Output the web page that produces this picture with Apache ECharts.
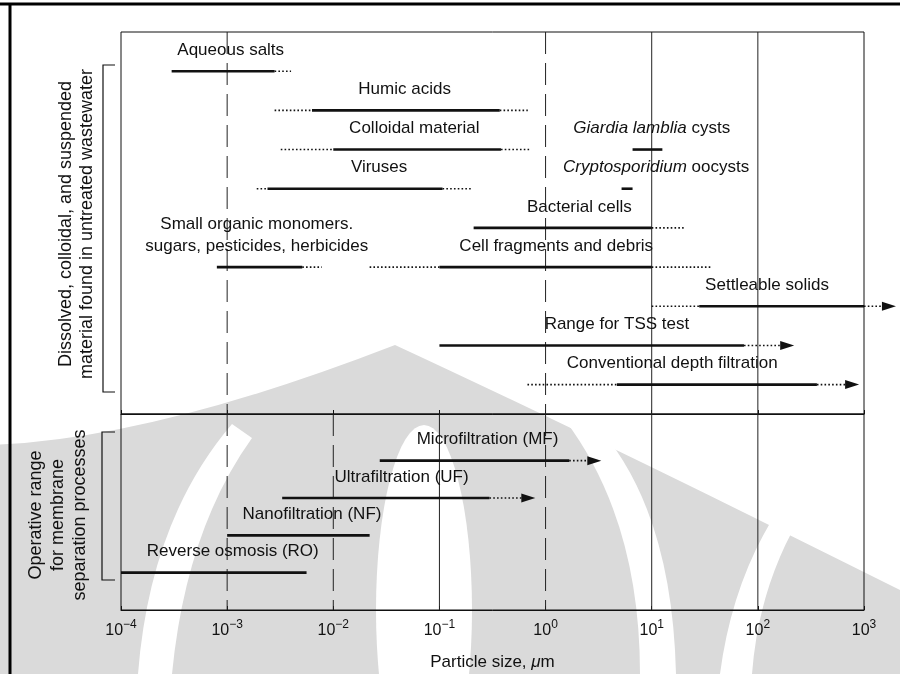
<!DOCTYPE html>
<html>
<head>
<meta charset="utf-8">
<script src="https://cdn.jsdelivr.net/npm/echarts@6/dist/echarts.min.js"></script>
<style>
  html, body { margin: 0; padding: 0; background: #fff; }
  #wrap { position: relative; width: 900px; height: 674px; }
  #mark, #chart { position: absolute; left: 0; top: 0; width: 900px; height: 674px; }
</style>
</head>
<body>
<div id="wrap">
  <!-- faint watermark of the scanned page, sits behind the chart -->
  <svg id="mark" width="900" height="674" viewBox="0 0 900 674">
    <path d="M-10 445 Q150 440 395 345 Q600 440 900 590 L900 674 L-10 674 Z" fill="#dadada"/>
    <path d="M232 424 Q150 520 138 674 L172 674 Q186 530 252 438 Z" fill="#fff"/>
    <ellipse cx="424" cy="610" rx="48" ry="185" fill="#fff"/>
    <path d="M565 420 Q640 520 640 674 L676 674 Q672 505 592 420 Z" fill="#fff"/>
    <path d="M720 674 Q735 560 800 480 L818 490 Q760 570 752 674 Z" fill="#fff"/>
  </svg>
  <div id="chart"></div>
</div>
<script>
// particle size ranges in um; null = no such part
// upper panel: material found in untreated wastewater
var upperNames = ['Aqueous salts', 'Humic acids', 'Colloidal material', 'Viruses',
  '{i|Giardia lamblia} cysts', '{i|Cryptosporidium} oocysts', 'Bacterial cells',
  'Small organic monomers.\nsugars, pesticides, herbicides', 'Cell fragments and debris',
  'Settleable solids', 'Range for TSS test', 'Conventional depth filtration'];
var upperDotFrom   = [null, 0.0028, 0.0032, 0.0019, null, null, null, null, 0.022, 10, null, 0.675];
var upperSolidFrom = [0.0003, 0.0063, 0.01, 0.0024, 6.6, 5.2, 0.21, 0.0008, 0.1, 28, 0.1, 4.7];
var upperSolidTo   = [0.0028, 0.37, 0.38, 0.107, 12.6, 6.6, 10, 0.0051, 10, 1000, 74, 360];
var upperDotTo     = [0.004, 0.68, 0.7, 0.2, null, null, 20, 0.0078, 36, 2000, 220, 900];
var upperArrow     = [false, false, false, false, false, false, false, false, false, true, true, true];

// lower panel: membrane processes
var lowerNames = ['Microfiltration (MF)', 'Ultrafiltration (UF)', 'Nanofiltration (NF)', 'Reverse osmosis (RO)'];
var lowerDotFrom   = [null, null, null, null];
var lowerSolidFrom = [0.0274, 0.0033, 0.001, 0.0001];
var lowerSolidTo   = [1.67, 0.296, 0.022, 0.0056];
var lowerDotTo     = [3.35, 0.8, null, null];
var lowerArrow     = [true, true, false, false];

var upperRefLines = [0.001, 1, 10, 100];
var lowerRefLines = [0.001, 0.01, 0.1, 1, 10, 100];

// layout: row slot of each bar and where its label is centred (um)
var upperRows = [1, 2, 3, 4, 3, 4, 5, 6, 6, 7, 8, 9];
var upperLabelAt = [0.00108, 0.047, 0.058, 0.027, 10, 11, 2.08, 0.0019, 1.26, 122, 4.7, 15.6];
var lowerRows = [1, 2, 3, 4];
var lowerLabelAt = [0.284, 0.044, 0.0063, 0.00113];
var upperRefDash = ['dashed', 'dashed', 'solid', 'solid'];
var lowerRefDash = ['dashed', 'dashed', 'solid', 'dashed', 'solid', 'solid'];

var FONT = '"Liberation Sans", Arial, Helvetica, sans-serif';
var INK = '#111';

var chart = echarts.init(document.getElementById('chart'));

function rangeRenderer(set) {
  return function (params, api) {
    var i = params.dataIndex;
    var row = set.rows[i];
    var y = api.coord([1, row])[1];
    var px = function (v) { return api.coord([v, row])[0]; };
    var solid = { stroke: INK, lineWidth: 2.6 };
    var dotted = { stroke: INK, lineWidth: 1.6, lineDash: [1.6, 2.2] };
    var kids = [];
    var s0 = px(set.solidFrom[i]), s1 = px(set.solidTo[i]);
    if (set.dotFrom[i] != null) {
      kids.push({ type: 'line', shape: { x1: px(set.dotFrom[i]), y1: y, x2: s0, y2: y }, style: dotted });
    }
    kids.push({ type: 'line', shape: { x1: s0, y1: y, x2: s1, y2: y }, style: solid });
    if (set.dotTo[i] != null) {
      var e = px(set.dotTo[i]);
      if (set.arrow[i]) {
        kids.push({ type: 'line', shape: { x1: s1, y1: y, x2: e - 12, y2: y }, style: dotted });
        kids.push({ type: 'polygon', shape: { points: [[e - 14, y - 4.5], [e, y], [e - 14, y + 4.5]] }, style: { fill: INK } });
      } else {
        kids.push({ type: 'line', shape: { x1: s1, y1: y, x2: e, y2: y }, style: dotted });
      }
    }
    kids.push({
      type: 'text',
      x: px(set.labelAt[i]), y: y - 10,
      style: {
        text: set.names[i], fill: INK, font: '17px ' + FONT,
        align: 'center', verticalAlign: 'bottom', lineHeight: 22,
        rich: { i: { fontStyle: 'italic', fontSize: 17, fontFamily: FONT } }
      }
    });
    return { type: 'group', children: kids };
  };
}

function refRenderer(dashes) {
  return function (params, api) {
    var cs = params.coordSys;
    var x = api.coord([api.value(0), 1])[0];
    return {
      type: 'line',
      shape: { x1: x, y1: cs.y, x2: x, y2: cs.y + cs.height },
      style: { stroke: '#222', lineWidth: 1, lineDash: dashes[params.dataIndex] === 'dashed' ? [22, 9] : null }
    };
  };
}

var upperSet = { names: upperNames, rows: upperRows, labelAt: upperLabelAt, dotFrom: upperDotFrom,
  solidFrom: upperSolidFrom, solidTo: upperSolidTo, dotTo: upperDotTo, arrow: upperArrow };
var lowerSet = { names: lowerNames, rows: lowerRows, labelAt: lowerLabelAt, dotFrom: lowerDotFrom,
  solidFrom: lowerSolidFrom, solidTo: lowerSolidTo, dotTo: lowerDotTo, arrow: lowerArrow };

function supLabel(v) {
  var e = Math.round(Math.log(v) / Math.LN10);
  return '10{s|' + (e < 0 ? '\u2212' + (-e) : e) + '}';
}

var xBase = {
  type: 'log', logBase: 10, min: 1e-4, max: 1e3, position: 'bottom',
  splitLine: { show: false },
  minorTick: { show: false },
  axisLine: { show: true, onZero: false, lineStyle: { color: INK, width: 1 } },
  axisTick: { show: true, inside: true, length: 4, lineStyle: { color: INK } }
};

function sideText(x, y, text) {
  return { type: 'text', x: x, y: y, rotation: Math.PI / 2, z: 100,
    style: { text: text, font: '18px ' + FONT, fill: INK, align: 'center', verticalAlign: 'middle' } };
}

var option = {
  backgroundColor: 'transparent',
  animation: false,
  textStyle: { fontFamily: FONT },
  grid: [
    { left: 121, top: 32, width: 743, height: 382, show: true, borderColor: INK, borderWidth: 1, backgroundColor: 'transparent' },
    { left: 121, top: 414, width: 743, height: 196, show: true, borderColor: INK, borderWidth: 1, backgroundColor: 'transparent' }
  ],
  xAxis: [
    Object.assign({}, xBase, { gridIndex: 0, axisLabel: { show: false } }),
    Object.assign({}, xBase, {
      gridIndex: 1,
      name: 'Particle size, {i|\u03bc}m',
      nameLocation: 'middle', nameGap: 44,
      nameTextStyle: { color: INK, fontSize: 17, fontFamily: FONT,
        rich: { i: { fontStyle: 'italic', fontSize: 17, fontFamily: FONT, color: INK } } },
      axisLabel: {
        show: true, margin: 9, color: INK, fontSize: 16, fontFamily: FONT,
        showMinLabel: true, showMaxLabel: true,
        formatter: supLabel,
        rich: { s: { fontSize: 12, fontFamily: FONT, color: INK, padding: [0, 0, 11, 0] } }
      }
    })
  ],
  yAxis: [
    { type: 'value', gridIndex: 0, min: 0, max: 9.75, inverse: true, show: false },
    { type: 'value', gridIndex: 1, min: -0.25, max: 5, inverse: true, show: false }
  ],
  graphic: [
    // outer frame of the scanned page
    { type: 'line', shape: { x1: 0, y1: 4, x2: 900, y2: 4 }, style: { stroke: '#000', lineWidth: 3 }, z: 100 },
    { type: 'line', shape: { x1: 10, y1: 3, x2: 10, y2: 674 }, style: { stroke: '#000', lineWidth: 3 }, z: 100 },
    // brackets
    { type: 'polyline', shape: { points: [[115, 65], [103, 65], [103, 392], [115, 392]] }, style: { stroke: INK, lineWidth: 1.2, fill: null }, z: 100 },
    { type: 'polyline', shape: { points: [[115, 432], [102, 432], [102, 580], [115, 580]] }, style: { stroke: INK, lineWidth: 1.2, fill: null }, z: 100 },
    // side titles
    sideText(66, 224, 'Dissolved, colloidal, and suspended'),
    sideText(87, 224, 'material found in untreated wastewater'),
    sideText(36, 515, 'Operative range'),
    sideText(58, 515, 'for membrane'),
    sideText(80, 515, 'separation processes')
  ],
  series: [
    {
      type: 'custom', xAxisIndex: 0, yAxisIndex: 0, clip: false,
      renderItem: refRenderer(upperRefDash),
      data: upperRefLines.map(function (v) { return [v, 1]; })
    },
    {
      type: 'custom', xAxisIndex: 1, yAxisIndex: 1, clip: false,
      renderItem: refRenderer(lowerRefDash),
      data: lowerRefLines.map(function (v) { return [v, 1]; })
    },
    {
      type: 'custom', xAxisIndex: 0, yAxisIndex: 0, clip: false,
      renderItem: rangeRenderer(upperSet),
      data: upperNames.map(function (n, i) { return [upperSolidFrom[i], upperRows[i]]; })
    },
    {
      type: 'custom', xAxisIndex: 1, yAxisIndex: 1, clip: false,
      renderItem: rangeRenderer(lowerSet),
      data: lowerNames.map(function (n, i) { return [lowerSolidFrom[i], lowerRows[i]]; })
    }
  ]
};

chart.setOption(option);
</script>
</body>
</html>
